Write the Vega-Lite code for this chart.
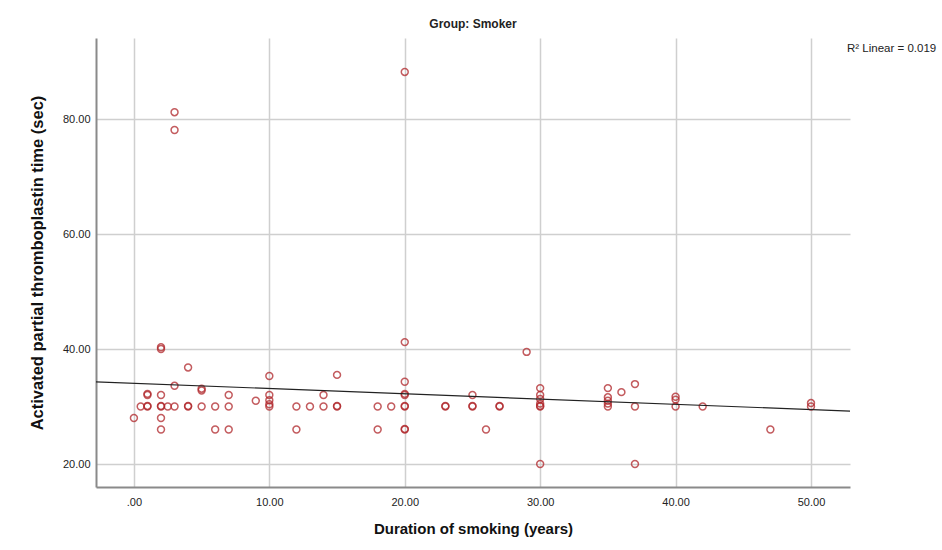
{
  "$schema": "https://vega.github.io/schema/vega-lite/v6.json",
  "width": 754,
  "height": 449,
  "autosize": {"type": "none"},
  "padding": {"left": 96, "top": 38, "right": 92, "bottom": 63},
  "background": "white",
  "config": {
    "view": {"stroke": null},
    "font": "Liberation Sans",
    "axis": {
      "gridColor": "#cfcfcf",
      "gridWidth": 1.5,
      "domainColor": "#8a8a8a",
      "domainWidth": 2,
      "ticks": false,
      "labelFont": "Liberation Sans",
      "labelFontSize": 11,
      "labelColor": "#222222",
      "titleFont": "Liberation Sans",
      "titleFontWeight": "bold",
      "titleColor": "#111111"
    }
  },
  "title": {
    "text": "Group: Smoker",
    "fontSize": 12,
    "fontWeight": "bold",
    "font": "Liberation Sans",
    "color": "#222222",
    "offset": 7,
    "anchor": "middle"
  },
  "datasets": {
    "points": [
      {"years": 0, "aptt": 28},
      {"years": 0.5, "aptt": 30},
      {"years": 1, "aptt": 32},
      {"years": 1, "aptt": 32.2},
      {"years": 1, "aptt": 30},
      {"years": 1, "aptt": 30.1},
      {"years": 2, "aptt": 40.3},
      {"years": 2, "aptt": 40},
      {"years": 2, "aptt": 32},
      {"years": 2, "aptt": 30},
      {"years": 2, "aptt": 30.1},
      {"years": 2, "aptt": 28},
      {"years": 2, "aptt": 26},
      {"years": 2.5, "aptt": 30},
      {"years": 3, "aptt": 81.2},
      {"years": 3, "aptt": 78.1},
      {"years": 3, "aptt": 33.6},
      {"years": 3, "aptt": 30},
      {"years": 4, "aptt": 36.8},
      {"years": 4, "aptt": 30},
      {"years": 4, "aptt": 30.1},
      {"years": 5, "aptt": 33.1},
      {"years": 5, "aptt": 32.8},
      {"years": 5, "aptt": 30},
      {"years": 6, "aptt": 30},
      {"years": 6, "aptt": 26},
      {"years": 7, "aptt": 32},
      {"years": 7, "aptt": 30},
      {"years": 7, "aptt": 26},
      {"years": 9, "aptt": 31},
      {"years": 10, "aptt": 35.3},
      {"years": 10, "aptt": 32},
      {"years": 10, "aptt": 31.1},
      {"years": 10, "aptt": 30.4},
      {"years": 10, "aptt": 30},
      {"years": 12, "aptt": 30},
      {"years": 12, "aptt": 26},
      {"years": 13, "aptt": 30},
      {"years": 14, "aptt": 32},
      {"years": 14, "aptt": 30},
      {"years": 15, "aptt": 35.5},
      {"years": 15, "aptt": 30},
      {"years": 15, "aptt": 30.1},
      {"years": 18, "aptt": 30},
      {"years": 18, "aptt": 26},
      {"years": 19, "aptt": 30},
      {"years": 20, "aptt": 88.2},
      {"years": 20, "aptt": 41.2},
      {"years": 20, "aptt": 34.3},
      {"years": 20, "aptt": 32},
      {"years": 20, "aptt": 32.2},
      {"years": 20, "aptt": 30},
      {"years": 20, "aptt": 30.1},
      {"years": 20, "aptt": 26},
      {"years": 20, "aptt": 26.1},
      {"years": 23, "aptt": 30},
      {"years": 23, "aptt": 30.1},
      {"years": 25, "aptt": 32},
      {"years": 25, "aptt": 30},
      {"years": 25, "aptt": 30.1},
      {"years": 26, "aptt": 26},
      {"years": 27, "aptt": 30},
      {"years": 27, "aptt": 30.1},
      {"years": 29, "aptt": 39.5},
      {"years": 30, "aptt": 33.2},
      {"years": 30, "aptt": 32},
      {"years": 30, "aptt": 31.3},
      {"years": 30, "aptt": 30.5},
      {"years": 30, "aptt": 30},
      {"years": 30, "aptt": 30.1},
      {"years": 30, "aptt": 20},
      {"years": 35, "aptt": 33.2},
      {"years": 35, "aptt": 31.6},
      {"years": 35, "aptt": 31},
      {"years": 35, "aptt": 30.5},
      {"years": 35, "aptt": 30},
      {"years": 36, "aptt": 32.5},
      {"years": 37, "aptt": 33.9},
      {"years": 37, "aptt": 30},
      {"years": 37, "aptt": 20},
      {"years": 40, "aptt": 31.7},
      {"years": 40, "aptt": 31.2},
      {"years": 40, "aptt": 30},
      {"years": 42, "aptt": 30},
      {"years": 47, "aptt": 26},
      {"years": 50, "aptt": 30.6},
      {"years": 50, "aptt": 30}
    ],
    "fit": [
      {"years": -2.8, "aptt": 34.3},
      {"years": 52.88, "aptt": 29.2}
    ],
    "note": [
      {"years": 52.88, "aptt": 92.1, "label": "R² Linear = 0.019"}
    ]
  },
  "layer": [
    {
      "data": {"name": "points"},
      "mark": {"type": "point", "shape": "circle", "filled": false, "stroke": "#b0262a", "strokeWidth": 1.5, "size": 48, "opacity": 0.75},
      "encoding": {
        "x": {
          "field": "years", "type": "quantitative",
          "scale": {"domain": [-2.8, 52.88], "nice": false, "zero": false},
          "axis": {
            "title": "Duration of smoking (years)",
            "titleFontSize": 15,
            "values": [0, 10, 20, 30, 40, 50],
            "labelExpr": "datum.value == 0 ? '.00' : format(datum.value, '.2f')",
            "labelPadding": 9,
            "titlePadding": 14
          }
        },
        "y": {
          "field": "aptt", "type": "quantitative",
          "scale": {"domain": [16, 94.1], "nice": false, "zero": false},
          "axis": {
            "title": "Activated partial thromboplastin time (sec)",
            "titleFontSize": 16.5,
            "values": [20, 40, 60, 80],
            "format": ".2f",
            "labelPadding": 6,
            "titlePadding": 17
          }
        }
      }
    },
    {
      "data": {"name": "fit"},
      "mark": {"type": "line", "color": "#222222", "strokeWidth": 1.2},
      "encoding": {
        "x": {"field": "years", "type": "quantitative"},
        "y": {"field": "aptt", "type": "quantitative"}
      }
    },
    {
      "data": {"name": "note"},
      "mark": {"type": "text", "align": "left", "baseline": "middle", "dx": -3, "fontSize": 11.5, "font": "Liberation Sans", "color": "#222222"},
      "encoding": {
        "x": {"field": "years", "type": "quantitative"},
        "y": {"field": "aptt", "type": "quantitative"},
        "text": {"field": "label"}
      }
    }
  ]
}
